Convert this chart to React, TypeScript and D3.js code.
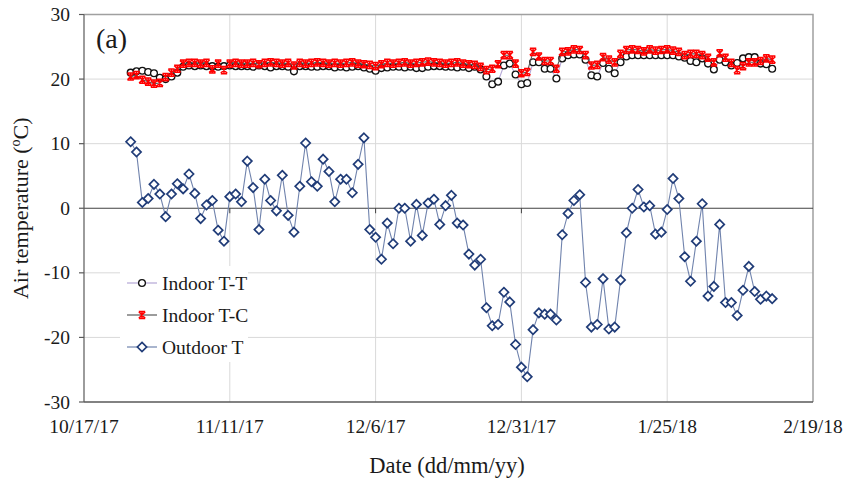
import React from 'react';
import * as d3 from 'd3';

// daily readings, first reading on 10/25/17
const firstDay = '2017-10-25';
const tickDates = ['2017-10-17', '2017-11-11', '2017-12-06', '2017-12-31', '2018-01-25', '2018-02-19'];
const yTicks = [-30, -20, -10, 0, 10, 20, 30];

const indoorTT = [
  21.0, 21.2, 21.3, 21.1, 20.9, 20.2, 20.0, 20.4, 21.0, 21.9,
  22.1, 22.0, 22.1, 22.0, 22.0, 21.9, 22.0, 22.1, 22.0, 22.0,
  22.0, 21.9, 22.1, 22.0, 21.8, 22.0, 22.0, 21.9, 21.2, 22.0,
  22.0, 21.9, 21.9, 22.0, 22.0, 21.8, 21.9, 21.8, 21.9, 22.0,
  21.8, 21.6, 21.3, 21.7, 21.8, 21.9, 21.9, 21.8, 21.9, 21.7,
  21.7, 21.9, 22.0, 22.0, 21.9, 21.9, 21.8, 21.9, 21.7, 21.9,
  21.5, 20.4, 19.2, 19.6, 22.1, 22.4, 20.7, 19.2, 19.4, 22.6,
  22.6, 21.6, 21.6, 20.1, 23.2, 23.7, 23.8, 23.8, 23.0, 20.6,
  20.4, 22.5, 21.6, 20.9, 22.6, 23.5, 23.7, 23.7, 23.7, 23.7,
  23.7, 23.7, 23.7, 23.7, 23.5, 23.3, 22.8, 22.6, 23.2, 22.4,
  21.5, 23.0, 22.6, 22.1, 22.5, 23.2, 23.4, 23.4, 22.4, 22.3,
  21.6,
];

const indoorTC = [
  20.4, 20.6, 19.9, 19.6, 19.3, 19.4, 20.3, 21.0, 21.6, 22.4,
  22.5, 22.5, 22.4, 22.5, 21.5, 22.4, 21.4, 22.4, 22.5, 22.4,
  22.4, 22.5, 22.3, 22.5, 22.6, 22.5, 22.4, 22.5, 22.1, 22.5,
  22.4, 22.5, 22.6, 22.5, 22.4, 22.5, 22.4, 22.5, 22.6, 22.4,
  22.3, 22.2, 22.0, 22.3, 22.5, 22.4, 22.5, 22.6, 22.4, 22.5,
  22.6, 22.7, 22.6, 22.5, 22.4, 22.5, 22.6, 22.4, 22.3, 22.2,
  21.9, 21.4, 21.6, 22.3, 23.7, 23.7, 22.4, 20.9, 21.1, 24.2,
  23.5, 22.8, 22.8, 21.6, 24.2, 24.3, 24.6, 24.5, 23.7, 22.1,
  22.2, 23.4, 23.0, 22.6, 23.9, 24.5, 24.6, 24.5, 24.3, 24.6,
  24.4, 24.5, 24.6, 24.4, 24.2, 23.7, 23.9, 23.9, 23.7, 23.3,
  22.6, 24.0, 23.3, 22.5, 21.4, 22.0, 22.6, 22.6, 22.8, 23.2,
  23.0,
];

const outdoorT = [
  10.3, 8.7, 0.9, 1.5, 3.7, 2.2, -1.3, 2.2, 3.8, 3.0,
  5.3, 2.3, -1.6, 0.5, 1.2, -3.4, -5.1, 1.8, 2.2, 1.0,
  7.3, 3.2, -3.3, 4.5, 1.2, -0.4, 5.1, -1.1, -3.7, 3.4,
  10.1, 4.1, 3.4, 7.6, 5.7, 1.0, 4.5, 4.5, 2.4, 6.8,
  10.9, -3.3, -4.5, -7.9, -2.3, -5.5, 0.0, 0.0, -5.1, 0.6,
  -4.2, 0.8, 1.4, -2.5, 0.4, 2.0, -2.3, -2.6, -7.1, -8.8,
  -7.9, -15.4, -18.2, -18.0, -13.0, -14.5, -21.1, -24.6, -26.1, -18.8,
  -16.2, -16.4, -16.4, -17.3, -4.1, -0.8, 1.2, 2.1, -11.5, -18.4,
  -18.0, -10.9, -18.7, -18.4, -11.1, -3.8, 0.0, 2.9, 0.2, 0.4,
  -4.0, -3.7, -0.2, 4.6, 1.5, -7.5, -11.3, -5.1, 0.7, -13.6,
  -12.1, -2.5, -14.6, -14.6, -16.6, -12.7, -9.0, -12.9, -14.1, -13.6,
  -14.0,
];

const seriesNames = ['Indoor T-T', 'Indoor T-C', 'Outdoor T'];

const FONT = 'Liberation Serif';
const TEXT = '#1a1a1a';
const left = 84, right = 813, top = 14.5, bottom = 402;

const parse = d3.utcParse('%Y-%m-%d');
const ticks = tickDates.map(d => parse(d) as Date);
const start = parse(firstDay) as Date;
const dates = outdoorT.map((_, i) => d3.utcDay.offset(start, i));
const fmt = d3.utcFormat('%-m/%-d/%y');

const x = d3.scaleUtc().domain([ticks[0], ticks[ticks.length - 1]]).range([left, right]);
const y = d3.scaleLinear().domain([-30, 30]).range([bottom, top]);

const Circle = () => <circle r={3.4} fill="#fff" stroke="#111" strokeWidth={1.3} />;
const Cross = () => (
  <path
    d="M-3.2,-3.2L3.2,3.2M-3.2,3.2L3.2,-3.2M-3.2,-3.6H3.2M-3.2,3.6H3.2M0,-3.8V3.8"
    fill="none" stroke="#ff0000" strokeWidth={1.5}
  />
);
const Diamond = () => (
  <path d="M0,-4.6L4.6,0L0,4.6L-4.6,0Z" fill="#fff" stroke="#203c78" strokeWidth={1.7} />
);

const series = [
  { name: seriesNames[0], values: indoorTT, line: '#b4a7d6', Marker: Circle },
  { name: seriesNames[1], values: indoorTC, line: '#595959', Marker: Cross },
  { name: seriesNames[2], values: outdoorT, line: '#7083ad', Marker: Diamond },
];

const lineGen = d3.line<number>()
  .x((_, i) => x(dates[i]))
  .y(d => y(d));

export default function App() {
  const legendRows = [283, 315, 347];
  return (
    <svg
      width={846}
      height={485}
      style={{ position: 'absolute', left: 0, top: 0, background: '#fff' }}
      fontFamily={FONT}
    >
      {/* grid */}
      <g stroke="#d9d9d9" strokeWidth={1}>
        {yTicks.filter(t => t !== 0 && Math.abs(t) !== 30).map(t => (
          <line key={'h' + t} x1={left} x2={right} y1={y(t)} y2={y(t)} />
        ))}
        {ticks.slice(1, -1).map(t => (
          <line key={'v' + t.getTime()} x1={x(t)} x2={x(t)} y1={top} y2={bottom} />
        ))}
      </g>

      {/* frame */}
      <path d={`M${left},${top}H${right}V${bottom}`} fill="none" stroke="#a0a0a0" strokeWidth={1.5} />
      <line x1={left} x2={right} y1={bottom} y2={bottom} stroke="#595959" strokeWidth={1.3} />

      {/* zero line with date ticks */}
      <line x1={left} x2={right} y1={y(0)} y2={y(0)} stroke="#404040" strokeWidth={1.2} />
      {ticks.slice(1, -1).map(t => (
        <line key={'zt' + t.getTime()} x1={x(t)} x2={x(t)} y1={y(0)} y2={y(0) + 5} stroke="#404040" strokeWidth={1} />
      ))}

      {/* y axis */}
      <line x1={left} x2={left} y1={top} y2={bottom} stroke="#595959" strokeWidth={1.2} />
      {yTicks.map(t => (
        <g key={'yt' + t}>
          <line x1={left - 5} x2={left} y1={y(t)} y2={y(t)} stroke="#595959" strokeWidth={1.2} />
          <text x={left - 14} y={y(t) + 6.5} textAnchor="end" fontSize={19.5} fill={TEXT}>{String(t)}</text>
        </g>
      ))}

      {/* x tick labels */}
      {ticks.map(t => (
        <text key={'xt' + t.getTime()} x={x(t)} y={433} textAnchor="middle" fontSize={19.5} fill={TEXT}>
          {fmt(t)}
        </text>
      ))}

      {/* titles */}
      <text x={447} y={473} textAnchor="middle" fontSize={22.5} fill={TEXT}>Date (dd/mm/yy)</text>
      <text transform={`translate(28,${(top + bottom) / 2}) rotate(-90)`} textAnchor="middle" fontSize={22} fill={TEXT}>
        <tspan>Air temperature (</tspan>
        <tspan dy={-8} fontSize={14}>o</tspan>
        <tspan dy={8}>C)</tspan>
      </text>
      <text x={96} y={48} fontSize={28} fill={TEXT}>(a)</text>

      {/* series */}
      {series.map(s => (
        <g key={s.name}>
          <path d={lineGen(s.values) || ''} fill="none" stroke={s.line} strokeWidth={1.1} />
          {s.values.map((v, i) => (
            <g key={i} transform={`translate(${x(dates[i])},${y(v)})`}>
              <s.Marker />
            </g>
          ))}
        </g>
      ))}

      {/* legend */}
      <rect x={120} y={266} width={128} height={96} fill="#fff" />
      {series.map((s, i) => (
        <g key={'lg' + s.name} transform={`translate(0,${legendRows[i]})`}>
          <line x1={127} x2={157} y1={0} y2={0} stroke={s.line} strokeWidth={1.2} />
          <g transform="translate(142,0)"><s.Marker /></g>
          <text x={162} y={6.5} fontSize={19.5} fill={TEXT}>{s.name}</text>
        </g>
      ))}
    </svg>
  );
}
